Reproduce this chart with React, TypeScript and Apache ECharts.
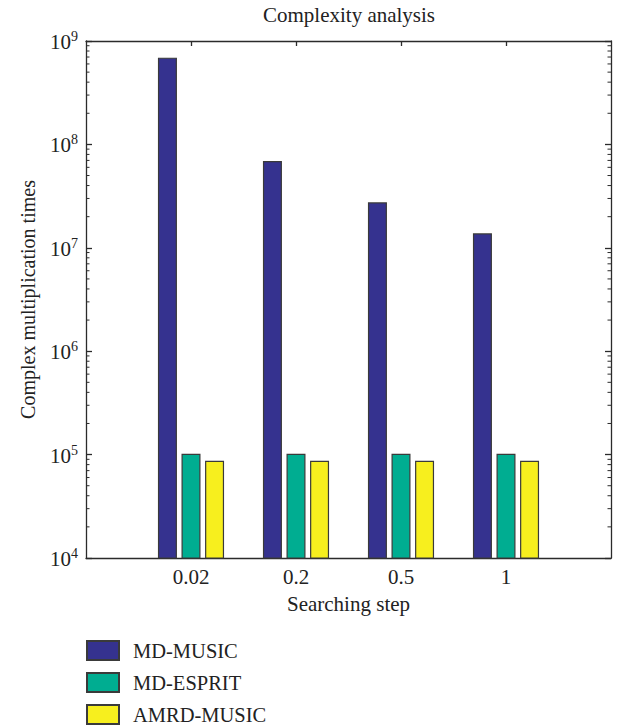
import React, { useEffect, useRef } from "react";
import * as echarts from "echarts";

// Searching steps on the x axis
const categories = ["0.02", "0.2", "0.5", "1"];
// Complex multiplication counts per method
const mdMusic = [6.9e8, 6.9e7, 2.75e7, 1.38e7];
const mdEsprit = [1.02e5, 1.02e5, 1.02e5, 1.02e5];
const amrdMusic = [8.7e4, 8.7e4, 8.7e4, 8.7e4];
const seriesNames = ["MD-MUSIC", "MD-ESPRIT", "AMRD-MUSIC"];
const seriesColors = ["#35328f", "#00ad91", "#f7ef1e"];
// Decade exponents shown on the log axis
const decades = [4, 5, 6, 7, 8, 9];

const FONT = "'Liberation Serif', 'DejaVu Serif', serif";
const AXIS_COLOR = "#2b2b2b";
const TEXT_COLOR = "#222";

export default function App() {
  const ref = useRef<HTMLDivElement>(null);

  useEffect(() => {
    if (!ref.current) return;
    const chart = echarts.init(ref.current, null, { renderer: "svg" });

    // Pad the category axis so the groups sit at 1..4 of a 0..5 span
    const axisCats = ["", ...categories, ""];
    const pad = (arr: number[]) => ["-", ...arr, "-"];
    const yMin = Math.pow(10, decades[0]);
    const yMax = Math.pow(10, decades[decades.length - 1]);

    const grid = { left: 86, top: 41, width: 525, height: 517 };

    const yLabel = {
      fontFamily: FONT,
      margin: 8,
      formatter: (v: number) => `{b|10}{s|${Math.round(Math.log10(v))}}`,
      rich: {
        b: { fontFamily: FONT, fontSize: 21, color: TEXT_COLOR, verticalAlign: "bottom" },
        s: { fontFamily: FONT, fontSize: 14, color: TEXT_COLOR, verticalAlign: "top", padding: [0, 0, 9, 0] },
      },
    };

    const allData = [mdMusic, mdEsprit, amrdMusic];
    const tick = (len: number) => ({
      show: true,
      inside: true,
      length: len,
      lineStyle: { color: AXIS_COLOR, width: 1.3 },
    });
    const axisLine = { show: true, lineStyle: { color: AXIS_COLOR, width: 1.3 } };

    // One legend row per series, stacked below the plot
    const legends = seriesNames.map((name, i) => ({
      orient: "vertical",
      left: 86,
      top: 640 + 32 * i,
      padding: 0,
      icon: "rect",
      itemWidth: 32,
      itemHeight: 19,
      data: [name],
      textStyle: { fontFamily: FONT, fontSize: 20.5, color: TEXT_COLOR, padding: [0, 0, 0, 9] },
    }));

    chart.setOption({
      animation: false,
      backgroundColor: "#ffffff",
      title: {
        text: "Complexity analysis",
        left: 349,
        top: 4,
        padding: 0,
        textAlign: "center",
        textStyle: { fontFamily: FONT, fontSize: 21, fontWeight: "normal", color: TEXT_COLOR },
      },
      legend: legends,
      grid,
      xAxis: [
        {
          type: "category",
          data: axisCats,
          boundaryGap: false,
          name: "Searching step",
          nameLocation: "middle",
          nameGap: 35,
          nameTextStyle: { fontFamily: FONT, fontSize: 21, color: TEXT_COLOR },
          axisLine,
          axisTick: { ...tick(5), interval: (_i: number, v: string) => v !== "" },
          axisLabel: { interval: 0, margin: 8, fontFamily: FONT, fontSize: 21, color: TEXT_COLOR },
          splitLine: { show: false },
        },
        {
          type: "category",
          data: axisCats,
          boundaryGap: false,
          position: "top",
          axisLine,
          axisTick: { ...tick(5), interval: (_i: number, v: string) => v !== "" },
          axisLabel: { show: false },
          splitLine: { show: false },
        },
      ],
      yAxis: [
        {
          type: "log",
          logBase: 10,
          min: yMin,
          max: yMax,
          name: "Complex multiplication times",
          nameLocation: "middle",
          nameGap: 48,
          nameTextStyle: { fontFamily: FONT, fontSize: 20, color: TEXT_COLOR },
          axisLine,
          axisTick: tick(6),
          axisLabel: yLabel,
          splitLine: { show: false },
        },
        {
          type: "log",
          logBase: 10,
          min: yMin,
          max: yMax,
          position: "right",
          axisLine,
          axisTick: tick(6),
          axisLabel: { show: false },
          splitLine: { show: false },
        },
      ],
      series: seriesNames.map((name, i) => ({
        name,
        type: "bar",
        data: pad(allData[i]),
        barWidth: 19,
        barGap: "24%",
        itemStyle: { color: seriesColors[i], borderColor: "#3a3a3a", borderWidth: 1.2 },
      })),
    });

    // Minor log ticks (2..9 within each decade) on both vertical edges
    const minor: any[] = [];
    const xL = grid.left;
    const xR = grid.left + grid.width;
    for (let d = 0; d < decades.length - 1; d++) {
      for (let m = 2; m <= 9; m++) {
        const v = m * Math.pow(10, decades[d]);
        const y = chart.convertToPixel({ yAxisIndex: 0 }, v) as number;
        const style = { stroke: AXIS_COLOR, lineWidth: 1 };
        minor.push({ type: "line", shape: { x1: xL, y1: y, x2: xL + 3.5, y2: y }, style, silent: true });
        minor.push({ type: "line", shape: { x1: xR, y1: y, x2: xR - 3.5, y2: y }, style, silent: true });
      }
    }
    chart.setOption({ graphic: minor });

    return () => chart.dispose();
  }, []);

  return (
    <div
      ref={ref}
      style={{ position: "fixed", left: 0, top: 0, width: 624, height: 728, background: "#fff" }}
    />
  );
}
